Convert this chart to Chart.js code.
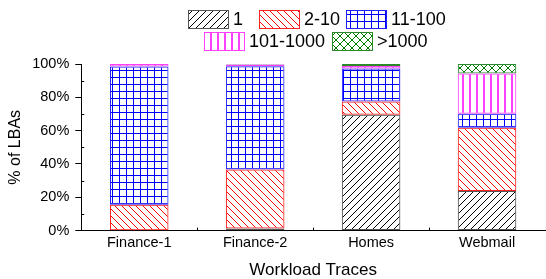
<!DOCTYPE html>
<html>
<head>
<meta charset="utf-8">
<script src="https://cdn.jsdelivr.net/npm/chart.js@4.4.1/dist/chart.umd.min.js"></script>
<style>
  html, body { margin: 0; padding: 0; background: #fff; }
  #wrap { width: 546px; height: 279px; }
</style>
</head>
<body>
<div id="wrap"><canvas id="myChart"></canvas></div>
<script>
// data (percent of LBAs per access-count bucket)
const traces = ['Finance-1', 'Finance-2', 'Homes', 'Webmail'];
const bucketNames = ['1', '2-10', '11-100', '101-1000', '>1000'];
const bucket1 = [0.2, 1.2, 69.5, 23.8];
const bucket2to10 = [15.3, 35.5, 8.0, 38.0];
const bucket11to100 = [83.0, 62.0, 19.8, 8.3];
const bucket101to1000 = [1.5, 1.0, 1.5, 24.2];
const bucketOver1000 = [0, 0.3, 1.2, 5.7];
const yTicks = [0, 20, 40, 60, 80, 100];

const FONT = "'Liberation Sans', Arial, sans-serif";
const ctx = document.getElementById('myChart').getContext('2d');

// hatch fills like the origin plot
function makePattern(kind, color, lw) {
  const c = document.createElement('canvas');
  const s = kind === 'cross' ? 8 : 7;
  c.width = s; c.height = s;
  const g = c.getContext('2d');
  g.strokeStyle = color;
  g.lineWidth = lw || 1;
  g.beginPath();
  if (kind === 'fwd' || kind === 'cross') {
    g.moveTo(0, s); g.lineTo(s, 0);
    g.moveTo(-1, 1); g.lineTo(1, -1);
    g.moveTo(s - 1, s + 1); g.lineTo(s + 1, s - 1);
  }
  if (kind === 'back' || kind === 'cross') {
    g.moveTo(0, 0); g.lineTo(s, s);
    g.moveTo(s - 1, -1); g.lineTo(s + 1, 1);
    g.moveTo(-1, s - 1); g.lineTo(1, s + 1);
  }
  if (kind === 'grid') {
    g.moveTo(0.5, 0); g.lineTo(0.5, s);
    g.moveTo(0, 0.5); g.lineTo(s, 0.5);
  }
  if (kind === 'vert') {
    g.moveTo(1, 0); g.lineTo(1, s);
  }
  g.stroke();
  return ctx.createPattern(c, 'repeat');
}

const fills = [
  makePattern('fwd', '#000000'),
  makePattern('back', '#ff0000'),
  makePattern('grid', '#0000ff'),
  makePattern('vert', '#ff00ff', 1.5),
  makePattern('cross', '#008000')
];
const edges = ['#555555', '#ff2020', '#2020ff', '#ff40ff', '#2a8a2a'];
const values = [bucket1, bucket2to10, bucket11to100, bucket101to1000, bucketOver1000];

// legend box top-left corners (two rows, like the original)
const legendSlots = [[188, 10], [259, 10], [346, 10], [204, 32], [332, 32]];

const hatchLegend = {
  id: 'hatchLegend',
  afterDraw(chart) {
    const c = chart.ctx;
    c.save();
    chart.data.datasets.forEach((ds, i) => {
      const [x, y] = legendSlots[i];
      c.fillStyle = '#fff';
      c.fillRect(x, y, 41, 19);
      c.fillStyle = ds.backgroundColor;
      c.fillRect(x, y, 41, 19);
      c.strokeStyle = ds.borderColor;
      c.lineWidth = 1;
      c.strokeRect(x + 0.5, y + 0.5, 40, 18);
      c.fillStyle = '#000';
      c.font = '18px ' + FONT;
      c.textBaseline = 'middle';
      c.fillText(ds.label, x + 45, y + 10);
    });
    c.restore();
  }
};

// small inward minor ticks on both axes
const minorTicks = {
  id: 'minorTicks',
  afterDraw(chart) {
    const c = chart.ctx;
    const xs = chart.scales.x, ys = chart.scales.y;
    c.save();
    c.strokeStyle = '#000';
    c.lineWidth = 1;
    c.beginPath();
    for (let v = 10; v < 100; v += 20) {
      const py = Math.round(ys.getPixelForValue(v)) + 0.5;
      c.moveTo(xs.left, py); c.lineTo(xs.left + 3, py);
    }
    for (let i = 1; i < traces.length; i++) {
      const px = Math.round((xs.getPixelForValue(i - 1) + xs.getPixelForValue(i)) / 2) + 0.5;
      c.moveTo(px, ys.bottom); c.lineTo(px, ys.bottom - 3);
    }
    c.stroke();
    c.restore();
  }
};

new Chart(ctx, {
  type: 'bar',
  data: {
    labels: traces,
    datasets: values.map((v, i) => ({
      label: bucketNames[i],
      data: v,
      backgroundColor: fills[i],
      borderColor: edges[i],
      borderWidth: 1,
      borderSkipped: false,
      categoryPercentage: 1,
      barPercentage: 0.505
    }))
  },
  options: {
    responsive: true,
    maintainAspectRatio: false,
    devicePixelRatio: 1,
    animation: false,
    layout: { padding: { top: 64, right: 1, left: 0, bottom: 0 } },
    plugins: {
      legend: { display: false },
      tooltip: { enabled: false }
    },
    scales: {
      x: {
        stacked: true,
        offset: true,
        grid: { display: false, drawTicks: false },
        border: { color: '#000', width: 1 },
        ticks: { color: '#000', font: { size: 14.5, family: FONT }, padding: 4 },
        title: {
          display: true, text: 'Workload Traces', color: '#000',
          font: { size: 17, family: FONT, lineHeight: 1 }, padding: { top: 6, bottom: 0 }
        }
      },
      y: {
        stacked: true,
        min: 0, max: 100,
        afterBuildTicks: s => { s.ticks = yTicks.map(v => ({ value: v })); },
        grid: { drawOnChartArea: false, drawTicks: true, tickLength: 6, color: '#000' },
        border: { color: '#000', width: 1 },
        ticks: { color: '#000', font: { size: 14.5, family: FONT }, padding: 6, callback: v => v + '%' },
        title: {
          display: true, text: '% of LBAs', color: '#000',
          font: { size: 16, family: FONT }, padding: { top: 6, bottom: 1 }
        }
      }
    }
  },
  plugins: [minorTicks, hatchLegend]
});
</script>
</body>
</html>
